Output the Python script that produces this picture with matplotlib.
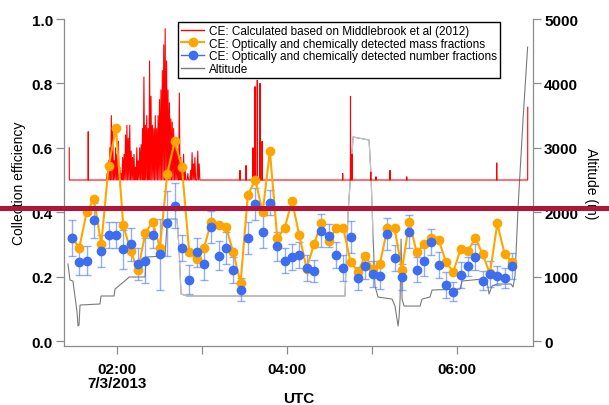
import numpy as np
import matplotlib
matplotlib.use('Agg')
import matplotlib.pyplot as plt
from matplotlib.lines import Line2D

plt.rcParams['font.family'] = ['Liberation Sans', 'DejaVu Sans']

# 5-min CE values, time in minutes after 00:00 UTC (7/3/2013)
ce_minutes = [88.2, 93.4, 98.6, 103.7, 108.9, 114.1, 119.3, 124.4, 129.6, 134.8,
              140.0, 145.1, 150.3, 155.5, 160.7, 165.8, 171.0, 176.2, 181.4, 186.5,
              191.7, 196.9, 202.1, 207.2, 212.4, 217.6, 222.8, 227.9, 233.1, 238.3,
              243.5, 248.6, 253.8, 259.0, 264.2, 269.4, 274.5, 279.7, 284.9, 290.1,
              295.2, 300.4, 305.6, 310.8, 315.9, 321.1, 326.3, 331.5, 336.6, 341.8,
              347.0, 352.2, 357.3, 362.5, 367.7, 372.9, 378.0, 383.2, 388.4, 393.6,
              398.7]
ce_mass = [0.32, 0.29, 0.40, 0.44, 0.30, 0.545, 0.66, 0.36, 0.28, 0.22,
           0.335, 0.37, 0.29, 0.52, 0.62, 0.54, 0.275, 0.255, 0.29, 0.37,
           0.36, 0.355, 0.275, 0.18, 0.455, 0.50, 0.40, 0.59, 0.32, 0.35,
           0.435, 0.33, 0.225, 0.30, 0.365, 0.31, 0.35, 0.35, 0.245, 0.215,
           0.265, 0.225, 0.24, 0.35, 0.35, 0.22, 0.37, 0.275, 0.30, 0.32,
           0.315, 0.245, 0.215, 0.285, 0.28, 0.32, 0.27, 0.21, 0.365, 0.27,
           0.245]
ce_number = [0.32, 0.245, 0.25, 0.375, 0.28, 0.33, 0.33, 0.285, 0.30, 0.24,
             0.25, 0.33, 0.27, 0.365, 0.42, 0.29, 0.19, 0.275, 0.24, 0.355,
             0.265, 0.29, 0.22, 0.16, 0.32, 0.425, 0.34, 0.43, 0.295, 0.25,
             0.26, 0.267, 0.227, 0.218, 0.343, 0.327, 0.267, 0.226, 0.322, 0.195,
             0.234, 0.207, 0.203, 0.332, 0.259, 0.198, 0.34, 0.222, 0.247, 0.308,
             0.237, 0.175, 0.153, 0.205, 0.232, 0.26, 0.187, 0.208, 0.203, 0.196,
             0.232]
ce_number_err = [0.055, 0.04, 0.045, 0.055, 0.05, 0.04, 0.04, 0.06, 0.05, 0.05,
                 0.07, 0.04, 0.11, 0.10, 0.07, 0.04, 0.045, 0.045, 0.05, 0.05,
                 0.045, 0.05, 0.04, 0.035, 0.05, 0.05, 0.05, 0.04, 0.045, 0.04,
                 0.04, 0.04, 0.04, 0.035, 0.05, 0.035, 0.04, 0.04, 0.05, 0.035,
                 0.04, 0.04, 0.04, 0.05, 0.04, 0.04, 0.05, 0.04, 0.045, 0.04,
                 0.04, 0.04, 0.03, 0.04, 0.03, 0.04, 0.03, 0.04, 0.03, 0.03,
                 0.04]

# Middlebrook et al. (2012) CE: 0.5 baseline with spikes
mb_base = 0.5
mb_start_min, mb_start_val = 86.3, 0.60
mb_end_min, mb_end_val = 409.9, 0.726
mb_spike_min = [99.7, 206.8, 211.1, 216.0, 217.4, 219.0, 220.9, 222.4,
                279.3, 284.8, 285.9, 299.1, 302.8, 312.7, 324.5, 388.0]
mb_spike_val = [0.65, 0.53, 0.545, 0.60, 0.79, 0.81, 0.80, 0.62,
                0.52, 0.76, 0.58, 0.525, 0.51, 0.53, 0.51, 0.553]
# dense burst, one peak per minute from 113 to 178 min
mb_burst_min = list(range(113, 179))
mb_burst_val = [0.52, 0.56, 0.60, 0.70, 0.66, 0.56, 0.60, 0.58, 0.62, 0.54,
                0.52, 0.57, 0.58, 0.64, 0.67, 0.63, 0.67, 0.59, 0.57, 0.58,
                0.54, 0.60, 0.56, 0.60, 0.61, 0.66, 0.82, 0.67, 0.70, 0.66,
                0.87, 0.76, 0.67, 0.66, 0.70, 0.66, 0.70, 0.75, 0.78, 0.84,
                0.92, 0.97, 0.87, 0.78, 0.74, 0.69, 0.68, 0.66, 0.62, 0.60,
                0.58, 0.77, 0.57, 0.55, 0.58, 0.54, 0.50, 0.52, 0.50, 0.53,
                0.585, 0.55, 0.57, 0.50, 0.59, 0.55]

# flight altitude
alt_min = [85.4, 86.8, 88.9, 90.3, 91.8, 92.5, 93.2, 93.9, 108.0, 108.7,
           117.9, 118.6, 127.1, 128.5, 139.8, 140.5, 153.9, 155.3, 156.0, 162.4,
           163.8, 165.2, 169.4, 280.9, 281.6, 283.1, 285.2, 286.6, 297.9, 299.3,
           300.7, 302.1, 304.2, 314.1, 316.2, 317.6, 318.4, 319.1, 319.8, 320.5,
           321.2, 322.6, 333.9, 335.3, 340.9, 342.4, 362.1, 363.5, 378.4, 381.2,
           382.6, 384.7, 388.2, 398.1, 399.5, 400.9, 403.1, 406.6, 409.8]
alt_m = [1196, 947, 932, 699, 450, 233, 248, 559, 575, 699,
         699, 807, 963, 994, 994, 1304, 1320, 1817, 1894, 1894,
         1429, 730, 699, 699, 1118, 2003, 2671, 3168, 3121, 2562,
         1630, 854, 683, 652, 543, 342, 233, 373, 652, 1584,
         652, 543, 543, 652, 683, 792, 807, 932, 963, 916,
         730, 854, 885, 885, 839, 1009, 2096, 3447, 4565]


def to_time(m):
    m = np.asarray(m, dtype=float)
    return np.datetime64('2013-07-03T00:00') + (m * 60000).astype('timedelta64[ms]')


# build the Middlebrook trace from baseline + spikes
spikes = [(t, v, 0.12) for t, v in zip(mb_spike_min, mb_spike_val)]
spikes += [(t, v, 0.5) for t, v in zip(mb_burst_min, mb_burst_val)]
spikes.sort()
red_t = [mb_start_min, mb_start_min + 0.05]
red_v = [mb_start_val, mb_base]
for t, v, w in spikes:
    red_t += [t - w, t, t + w]
    red_v += [mb_base, v, mb_base]
red_t += [mb_end_min - 0.05, mb_end_min]
red_v += [mb_base, mb_end_val]

fig = plt.figure(figsize=(6.09, 4.06), dpi=100)
ax = fig.add_axes([0.1051, 0.146, 0.7701, 0.8047])
ax2 = ax.twinx()
ax.set_zorder(ax2.get_zorder() + 1)
ax.patch.set_visible(False)

spine_c = '#8c8c8c'

# altitude
ax2.plot(to_time(alt_min), alt_m, color='#7a7a7a', lw=0.8)
light = [i for i, m in enumerate(alt_min) if 155 <= m <= 301]
ax2.plot(to_time([alt_min[i] for i in light]), [alt_m[i] for i in light],
         color='#c4c4c4', lw=0.9)
ax2.set_ylim(-73, 5000)
ax2.set_yticks([0, 1000, 2000, 3000, 4000, 5000])
ax2.set_ylabel('Altitude (m)', rotation=270, va='bottom', fontsize=10, labelpad=4)

ax.plot(to_time(red_t), red_v, color='#ff0000', lw=0.8, zorder=1)

t_ce = to_time(ce_minutes)
ax.errorbar(t_ce, ce_number, yerr=ce_number_err, fmt='none', ecolor='#4a78f0',
            alpha=0.6, elinewidth=1, capsize=3.2, capthick=1, zorder=2)
ax.plot(t_ce, ce_mass, '-o', color='#ffa500', lw=1.5, ms=6, zorder=3)
ax.plot(t_ce, ce_number, 'o', color='#3d6ef2', ms=6, zorder=4)

ax.set_ylim(-0.0146, 1.0)
ax.set_yticks([0.0, 0.2, 0.4, 0.6, 0.8, 1.0])
ax.set_yticklabels(['0.0', '0.2', '0.4', '0.6', '0.8', '1.0'])
ax.set_xlim(to_time(82.6), to_time(413.6))
ax.set_xticks(to_time([120, 240, 360]))
ax.set_xticklabels(['02:00\n7/3/2013', '04:00', '06:00'], linespacing=1.0)
ax.set_xticks(to_time([180, 300]), minor=True)
ax.set_ylabel('Collection efficiency', fontsize=10, labelpad=4)
ax.set_xlabel('UTC', fontsize=11, fontweight='bold')
ax.xaxis.set_label_coords(0.5, -0.14)

for a in (ax, ax2):
    a.spines['top'].set_visible(False)
    for s in a.spines.values():
        s.set_color(spine_c)
        s.set_linewidth(0.9)
    a.tick_params(which='both', direction='out', length=6, width=0.9,
                  color=spine_c, labelsize=11, pad=2)
    for lab in a.get_xticklabels() + a.get_yticklabels():
        lab.set_fontweight('bold')
ax.spines['right'].set_visible(False)
ax2.spines['left'].set_visible(False)
ax2.spines['bottom'].set_visible(False)
ax.tick_params(axis='x', which='both', length=6, pad=6)

handles = [Line2D([], [], color='#ff0000', lw=1),
           Line2D([], [], color='#ffa500', lw=1.5, marker='o', ms=6),
           Line2D([], [], color='#3d6ef2', lw=1, marker='o', ms=6),
           Line2D([], [], color='#7a7a7a', lw=1)]
labels = ['CE: Calculated based on Middlebrook et al (2012)',
          'CE: Optically and chemically detected mass fractions',
          'CE: Optically and chemically detected number fractions',
          'Altitude']
leg = ax.legend(handles, labels, loc='upper right', bbox_to_anchor=(0.9296, 0.9908),
                fontsize=8.5, labelspacing=0.05, handlelength=1.9, handletextpad=0.45,
                borderpad=0.25, borderaxespad=0, fancybox=False, framealpha=1)
leg.get_frame().set_edgecolor('black')
leg.get_frame().set_linewidth(1)

fig.add_artist(Line2D([0, 1], [0.4845, 0.4845], transform=fig.transFigure,
                      color='#b3143a', lw=3.6))

fig.savefig('out.png', dpi=100)
